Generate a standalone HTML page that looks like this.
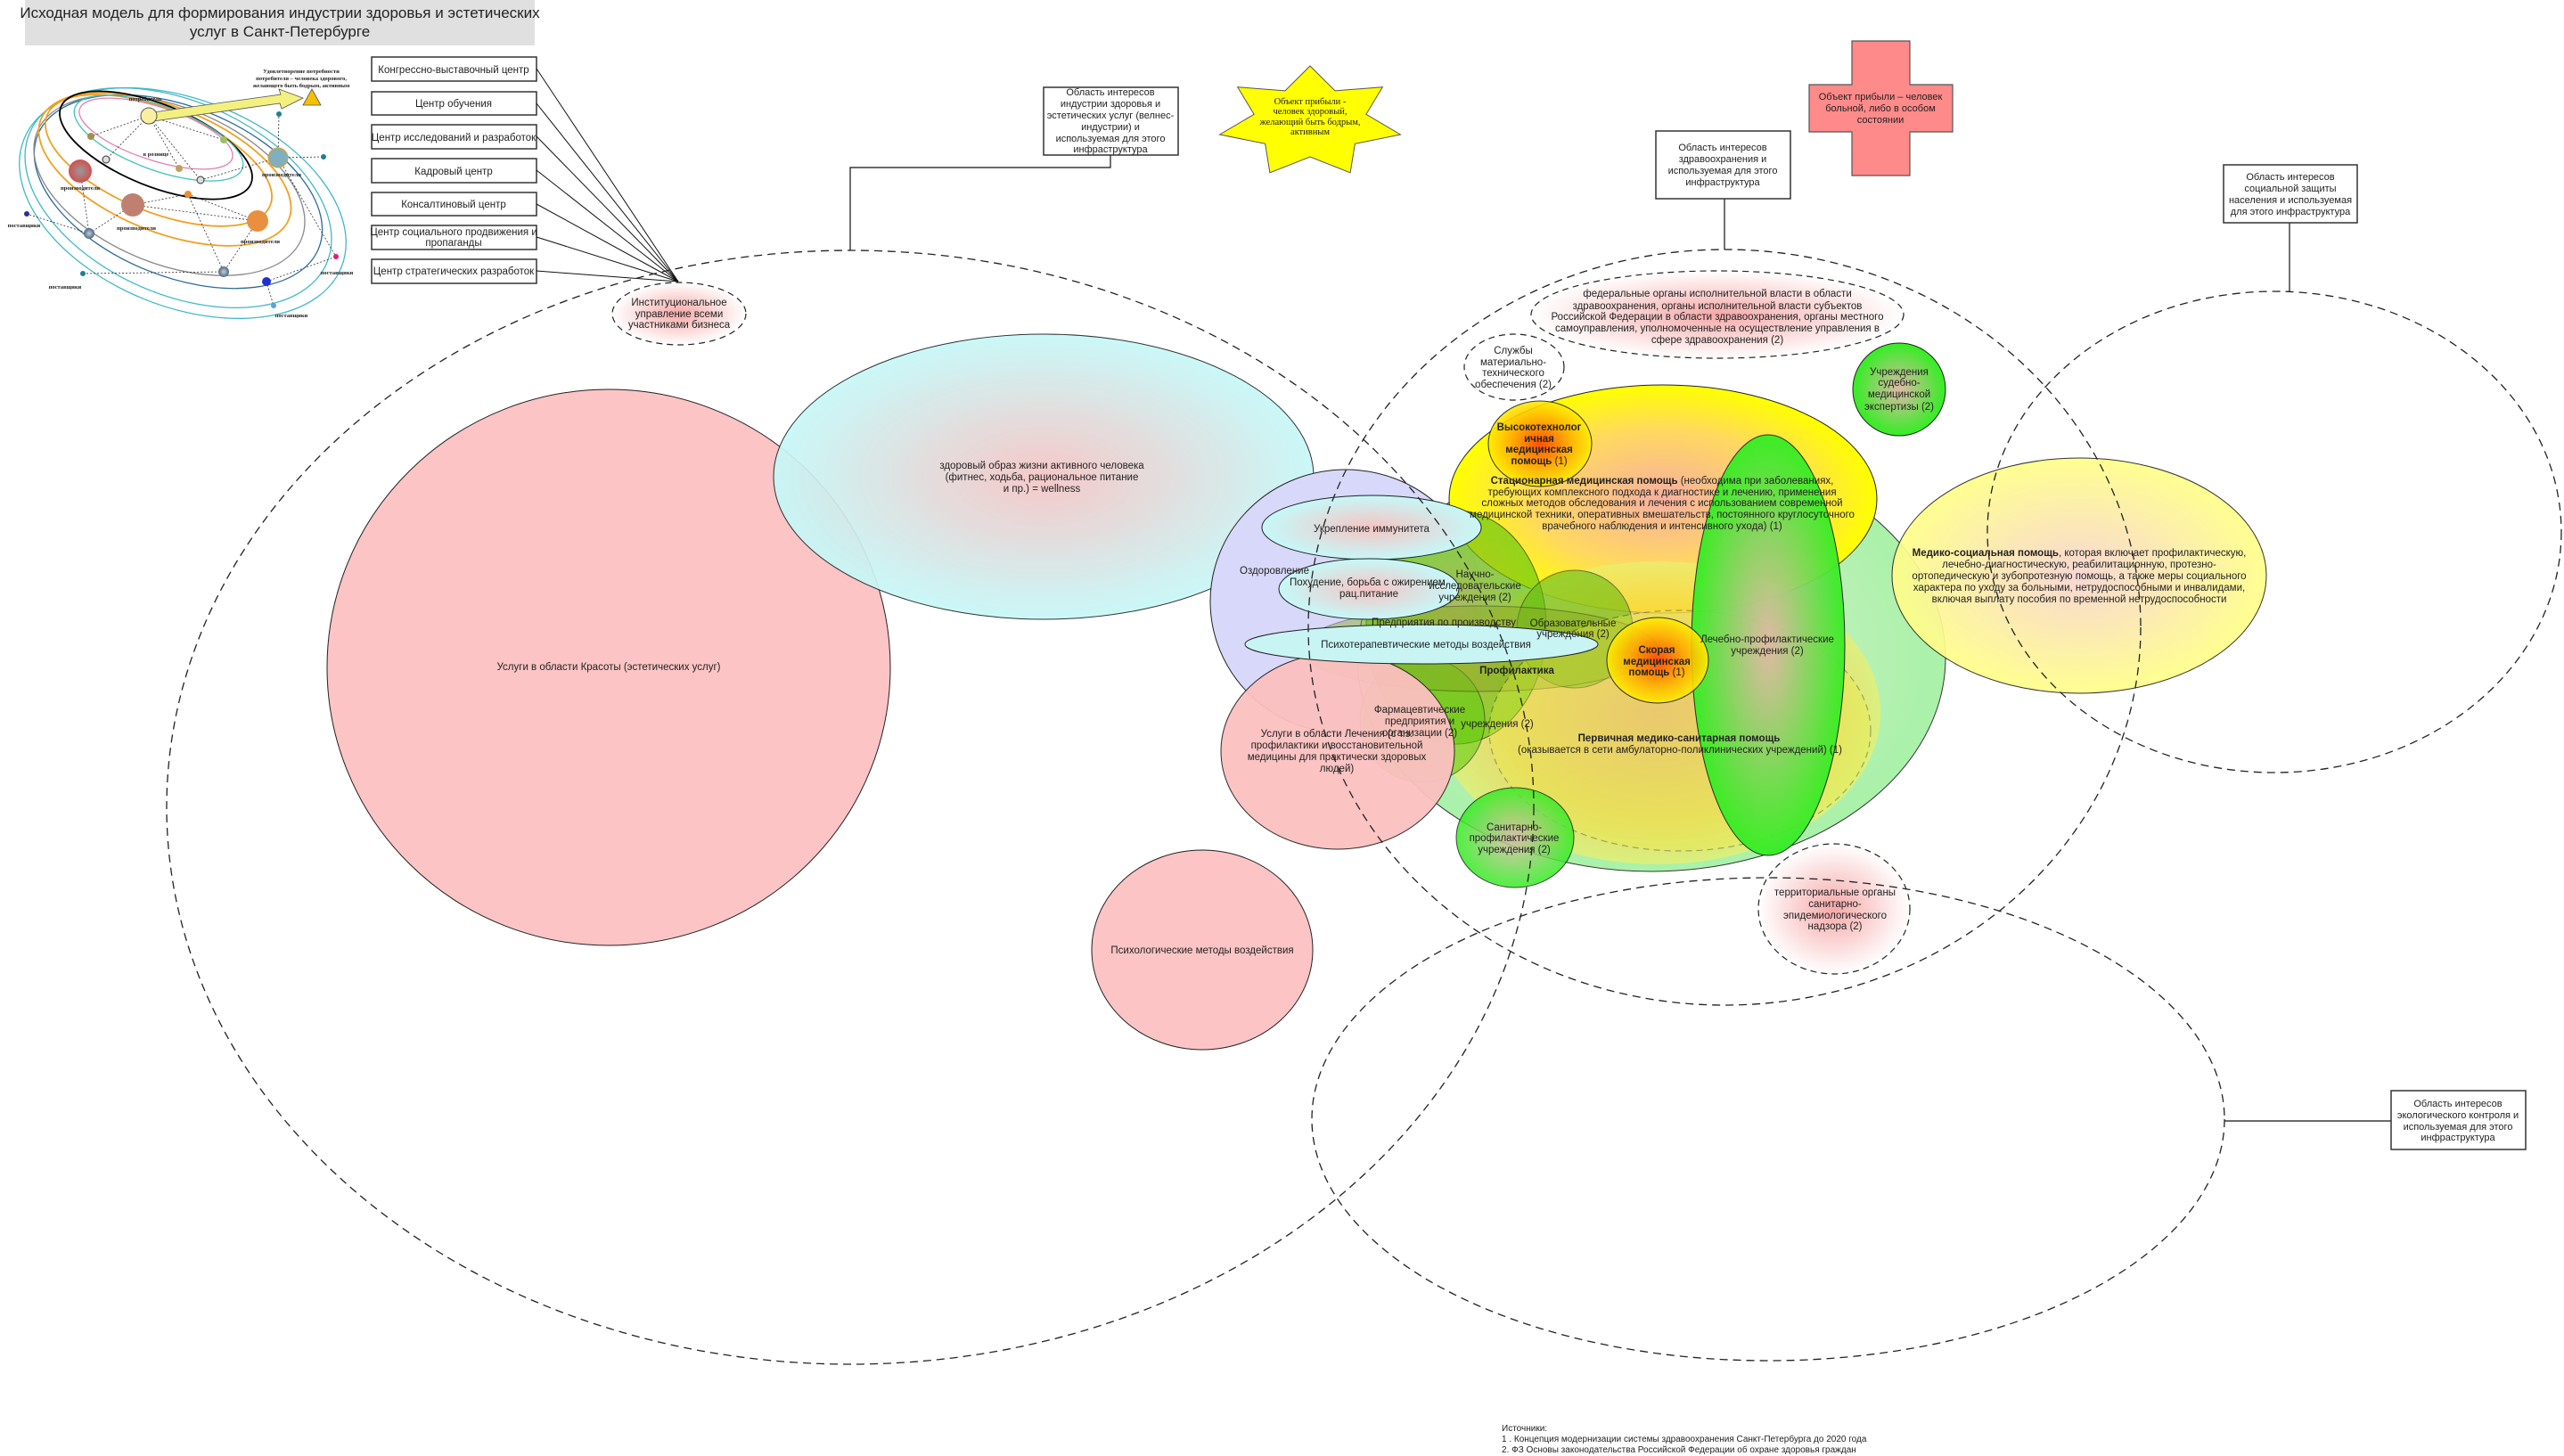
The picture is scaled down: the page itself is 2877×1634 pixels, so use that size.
<!DOCTYPE html>
<html><head><meta charset="utf-8"><style>
html,body{margin:0;padding:0;background:#fff;}
svg{display:block;}
text{font-family:"Liberation Sans","DejaVu Sans",sans-serif;fill:#222;}
.s{font-family:"Liberation Serif",serif;}
</style></head><body>
<svg width="2877" height="1634" viewBox="0 0 2877 1634" xmlns="http://www.w3.org/2000/svg">
<defs>
<radialGradient id="gCyan"><stop offset="0" stop-color="#f6c4c4"/><stop offset="1" stop-color="#c6f8f8"/></radialGradient>
<radialGradient id="gYel"><stop offset="0" stop-color="#f6b0a0"/><stop offset="0.6" stop-color="#ffd860"/><stop offset="1" stop-color="#ffff00"/></radialGradient>
<radialGradient id="gBig"><stop offset="0" stop-color="#f0a070"/><stop offset="0.7" stop-color="#f6d050"/><stop offset="1" stop-color="#e8f070"/></radialGradient>
<radialGradient id="gOr"><stop offset="0" stop-color="#ff4000"/><stop offset="0.6" stop-color="#ffb000"/><stop offset="1" stop-color="#ffee00"/></radialGradient>
<radialGradient id="gGr"><stop offset="0" stop-color="#e0b8a8"/><stop offset="1" stop-color="#33ee22"/></radialGradient>
<radialGradient id="gOl"><stop offset="0" stop-color="#b0a040"/><stop offset="1" stop-color="#66cc11"/></radialGradient>
<radialGradient id="gPk"><stop offset="0" stop-color="#f6a8a8"/><stop offset="1" stop-color="#ffffff"/></radialGradient>
<radialGradient id="gLY"><stop offset="0" stop-color="#f8d4d0"/><stop offset="1" stop-color="#ffff88"/></radialGradient>
<radialGradient id="gLG"><stop offset="0" stop-color="#d8f0c8"/><stop offset="1" stop-color="#a0f0a0"/></radialGradient>
<radialGradient id="pl1"><stop offset="0" stop-color="#999"/><stop offset="1" stop-color="#d05050"/></radialGradient>
<radialGradient id="pl2"><stop offset="0" stop-color="#ccc"/><stop offset="1" stop-color="#4a6a8a"/></radialGradient>
</defs>

<!-- Title -->
<rect x="28" y="0" width="572" height="51" fill="#e0e0e0"/>
<text x="314" y="20" font-size="17" text-anchor="middle">Исходная модель для формирования индустрии здоровья и эстетических</text>
<text x="314" y="41" font-size="17" text-anchor="middle">услуг в Санкт-Петербурге</text>

<!-- Solar system -->
<g fill="none" stroke-width="1.3">
<ellipse cx="205" cy="228" rx="192" ry="116" transform="rotate(22 205 228)" stroke="#40b8c8"/>
<ellipse cx="200" cy="222" rx="182" ry="108" transform="rotate(24 200 222)" stroke="#40b8c8"/>
<ellipse cx="200" cy="215" rx="170" ry="95" transform="rotate(22 200 215)" stroke="#2a6a9a"/>
<ellipse cx="190" cy="208" rx="160" ry="88" transform="rotate(22 190 208)" stroke="#888"/>
<ellipse cx="185" cy="190" rx="150" ry="70" transform="rotate(22 185 190)" stroke="#f0a020" stroke-width="1.8"/>
<ellipse cx="178" cy="180" rx="135" ry="58" transform="rotate(22 178 180)" stroke="#f0a020" stroke-width="1.8"/>
<ellipse cx="175" cy="163" rx="115" ry="46" transform="rotate(22 175 163)" stroke="#000" stroke-width="1.8"/>
<ellipse cx="178" cy="155" rx="100" ry="36" transform="rotate(20 178 155)" stroke="#40c0c0"/>
<ellipse cx="175" cy="150" rx="90" ry="30" transform="rotate(18 175 150)" stroke="#e080b0"/>
</g>
<g stroke="#333" stroke-dasharray="2 2" stroke-width="0.8">
<line x1="167" y1="130" x2="102" y2="153"/><line x1="167" y1="130" x2="119" y2="179"/><line x1="167" y1="130" x2="201" y2="189"/>
<line x1="167" y1="130" x2="251" y2="157"/><line x1="167" y1="130" x2="225" y2="202"/><line x1="211" y1="218" x2="149" y2="230"/>
<line x1="211" y1="218" x2="289" y2="248"/><line x1="211" y1="218" x2="251" y2="305"/><line x1="100" y1="262" x2="30" y2="240"/>
<line x1="251" y1="305" x2="93" y2="307"/><line x1="299" y1="316" x2="377" y2="288"/><line x1="299" y1="316" x2="307" y2="343"/>
<line x1="312" y1="177" x2="363" y2="176"/><line x1="312" y1="177" x2="313" y2="128"/><line x1="90" y1="192" x2="100" y2="262"/>
<line x1="149" y1="230" x2="100" y2="262"/><line x1="289" y1="248" x2="251" y2="305"/><line x1="312" y1="177" x2="377" y2="288"/>
<line x1="225" y1="202" x2="312" y2="177"/><line x1="149" y1="230" x2="289" y2="248"/>
</g>
<polygon points="172,126 315,106 313,100 340,110 316,122 314,116 172,136" fill="#f4f080" stroke="#555" stroke-width="0.8"/>
<polygon points="340,118 350,100 360,118" fill="#f6c000" stroke="#555" stroke-width="0.8"/>
<circle cx="167" cy="130" r="9" fill="#f8f0a0" stroke="#555"/>
<circle cx="90" cy="192" r="13" fill="url(#pl1)"/>
<circle cx="149" cy="230" r="13" fill="#c08070"/>
<circle cx="289" cy="248" r="12" fill="#e89040"/>
<circle cx="312" cy="177" r="11" fill="#80b0c0" stroke="#e0a020"/>
<circle cx="100" cy="262" r="6" fill="url(#pl2)"/><circle cx="251" cy="305" r="6" fill="url(#pl2)"/>
<circle cx="299" cy="316" r="5" fill="#2030d0"/><circle cx="211" cy="218" r="4" fill="#e89030"/>
<circle cx="313" cy="128" r="3" fill="#208090"/><circle cx="363" cy="176" r="3" fill="#208090"/>
<circle cx="93" cy="307" r="3" fill="#208090"/><circle cx="307" cy="343" r="3" fill="#60a0e0"/>
<circle cx="377" cy="288" r="3" fill="#e02070"/><circle cx="30" cy="240" r="3" fill="#303090"/>
<circle cx="102" cy="153" r="4" fill="#a09050"/><circle cx="119" cy="179" r="4" fill="#ddd" stroke="#333"/>
<circle cx="201" cy="189" r="4" fill="#c0a060"/><circle cx="251" cy="157" r="4" fill="#a0c060"/><circle cx="225" cy="202" r="4" fill="#ddd" stroke="#333"/>
<g class="s" font-size="6.5" font-weight="bold">
<text class="s" x="163" y="113" text-anchor="middle" font-size="6.5">потребитель</text>
<text class="s" x="175" y="175" text-anchor="middle" font-size="6.5">в рознице</text>
<text class="s" x="90" y="213" text-anchor="middle" font-size="6.5">производители</text>
<text class="s" x="153" y="258" text-anchor="middle" font-size="6.5">производители</text>
<text class="s" x="316" y="198" text-anchor="middle" font-size="6.5">производители</text>
<text class="s" x="292" y="273" text-anchor="middle" font-size="6.5">производители</text>
<text class="s" x="27" y="255" text-anchor="middle" font-size="6.5">поставщики</text>
<text class="s" x="73" y="324" text-anchor="middle" font-size="6.5">поставщики</text>
<text class="s" x="378" y="308" text-anchor="middle" font-size="6.5">поставщики</text>
<text class="s" x="327" y="356" text-anchor="middle" font-size="6.5">поставщики</text>
<text class="s" x="338" y="82" text-anchor="middle" font-size="6.5">Удовлетворение потребности</text>
<text class="s" x="338" y="90" text-anchor="middle" font-size="6.5">потребителя – человека здорового,</text>
<text class="s" x="338" y="98" text-anchor="middle" font-size="6.5">желающего быть бодрым, активным</text>
</g>

<!-- Left boxes -->
<g fill="#fff" stroke="#333" stroke-width="1.5">
<rect x="417" y="64" width="185" height="27"/><rect x="417" y="103" width="185" height="26"/>
<rect x="417" y="140" width="185" height="27"/><rect x="417" y="178" width="185" height="27"/>
<rect x="417" y="216" width="185" height="26"/><rect x="417" y="253" width="185" height="27"/>
<rect x="417" y="291" width="185" height="27"/>
</g>
<g font-size="11.5" text-anchor="middle">
<text x="509" y="82">Конгрессно-выставочный центр</text>
<text x="509" y="120">Центр обучения</text>
<text x="509" y="158">Центр исследований и разработок</text>
<text x="509" y="196">Кадровый центр</text>
<text x="509" y="233">Консалтиновый центр</text>
<text x="509" y="264">Центр социального продвижения и</text>
<text x="509" y="276">пропаганды</text>
<text x="509" y="308">Центр стратегических разработок</text>
</g>
<g stroke="#111" stroke-width="1">
<line x1="602" y1="77" x2="761" y2="316"/><line x1="602" y1="116" x2="761" y2="316"/>
<line x1="602" y1="153" x2="761" y2="316"/><line x1="602" y1="191" x2="761" y2="316"/>
<line x1="602" y1="229" x2="761" y2="316"/><line x1="602" y1="266" x2="761" y2="316"/>
<line x1="602" y1="304" x2="761" y2="316"/>
</g>

<!-- Filled shapes -->
<ellipse cx="683" cy="749" rx="316" ry="312" fill="#fcc4c4" stroke="#222" stroke-width="1"/>
<ellipse cx="1171" cy="535" rx="303" ry="160" fill="url(#gCyan)" stroke="#222" stroke-width="1" opacity="0.92"/>
<ellipse cx="1510" cy="675" rx="152" ry="148" fill="#d8d8fa" stroke="#222" stroke-width="1"/>
<ellipse cx="1853" cy="738" rx="330" ry="240" fill="url(#gLG)" stroke="#222" stroke-width="1" opacity="0.9"/>
<ellipse cx="1866" cy="560" rx="240" ry="128" fill="url(#gYel)" stroke="#222" stroke-width="1"/>
<ellipse cx="1860" cy="800" rx="250" ry="170" fill="url(#gBig)" opacity="0.75"/>
<ellipse cx="1634" cy="704" rx="101" ry="131" fill="url(#gOl)" stroke="#222" stroke-width="1" opacity="0.7"/>
<ellipse cx="1596" cy="808" rx="70" ry="70" fill="#66cc11" stroke="#222" stroke-width="1" opacity="0.6"/>
<ellipse cx="1767" cy="706" rx="65" ry="66" fill="#66bb11" stroke="#222" stroke-width="1" opacity="0.6"/>
<ellipse cx="1660" cy="728" rx="200" ry="48" fill="#88aa22" stroke="#222" stroke-width="1" opacity="0.45"/>
<ellipse cx="1885" cy="820" rx="214" ry="135" fill="#eeee44" opacity="0.35" stroke="#222" stroke-width="1.2" stroke-dasharray="7 5"/>
<ellipse cx="1984" cy="724" rx="86" ry="236" fill="url(#gGr)" stroke="#222" stroke-width="1" opacity="0.95"/>
<ellipse cx="1728" cy="498" rx="58" ry="48" fill="url(#gOr)" stroke="#222" stroke-width="1" opacity="0.9"/>
<ellipse cx="1860" cy="741" rx="57" ry="48" fill="url(#gOr)" stroke="#222" stroke-width="1" opacity="0.9"/>
<ellipse cx="1501" cy="843" rx="131" ry="110" fill="#fcc0c0" stroke="#222" stroke-width="1" opacity="0.95"/>
<ellipse cx="1349" cy="1066" rx="124" ry="112" fill="#fcc4c4" stroke="#222" stroke-width="1"/>
<ellipse cx="1539" cy="592" rx="123" ry="36" fill="url(#gCyan)" stroke="#222" stroke-width="1"/>
<ellipse cx="1536" cy="661" rx="101" ry="34" fill="url(#gCyan)" stroke="#222" stroke-width="1"/>
<ellipse cx="1595" cy="723" rx="198" ry="22" fill="#c8f4f4" stroke="#222" stroke-width="1"/>
<ellipse cx="1700" cy="940" rx="66" ry="56" fill="url(#gGr)" stroke="#222" stroke-width="1" opacity="0.85"/>
<ellipse cx="2131" cy="437" rx="52" ry="52" fill="url(#gGr)" stroke="#222" stroke-width="1"/>
<ellipse cx="2333" cy="646" rx="210" ry="132" fill="url(#gLY)" stroke="#222" stroke-width="1" opacity="0.92"/>

<!-- dashed pink ellipses -->
<g stroke="#222" stroke-width="1.2" stroke-dasharray="7 5">
<ellipse cx="1927" cy="353" rx="209" ry="49" fill="url(#gPk)"/>
<ellipse cx="1699" cy="412" rx="56" ry="37" fill="#fff"/>
<ellipse cx="2058" cy="1020" rx="85" ry="73" fill="url(#gPk)"/>
<ellipse cx="762" cy="352" rx="75" ry="35" fill="url(#gPk)"/>
</g>

<!-- big dashed outlines -->
<g fill="none" stroke="#222" stroke-width="1.3" stroke-dasharray="9 6">
<ellipse cx="954" cy="906" rx="767" ry="625"/>
<ellipse cx="1935" cy="704" rx="467" ry="424"/>
<ellipse cx="2552" cy="597" rx="322" ry="270"/>
<ellipse cx="1984" cy="1256" rx="512" ry="271"/>
</g>

<!-- connectors to interest boxes -->
<g fill="none" stroke="#111" stroke-width="1.2">
<polyline points="1246,174 1246,188 954,188 954,281"/>
<line x1="1935" y1="223" x2="1935" y2="280"/>
<line x1="2569" y1="250" x2="2569" y2="327"/>
<line x1="2496" y1="1258" x2="2683" y2="1258"/>
</g>
<g fill="#fff" stroke="#333" stroke-width="1.5">
<rect x="1171" y="98" width="151" height="76"/>
<rect x="1858" y="147" width="151" height="76"/>
<rect x="2495" y="185" width="150" height="65"/>
<rect x="2683" y="1224" width="151" height="66"/>
</g>
<g font-size="11" text-anchor="middle">
<text x="1246" y="107">Область интересов</text><text x="1246" y="120">индустрии здоровья и</text>
<text x="1246" y="133">эстетических услуг (велнес-</text><text x="1246" y="146">индустрии) и</text>
<text x="1246" y="159">используемая для этого</text><text x="1246" y="171">инфраструктура</text>
<text x="1933" y="169">Область интересов</text><text x="1933" y="182">здравоохранения и</text>
<text x="1933" y="195">используемая для этого</text><text x="1933" y="208">инфраструктура</text>
<text x="2570" y="202">Область интересов</text><text x="2570" y="215">социальной защиты</text>
<text x="2570" y="228">населения и используемая</text><text x="2570" y="241">для этого инфраструктура</text>
<text x="2758" y="1242">Область интересов</text><text x="2758" y="1255">экологического контроля и</text>
<text x="2758" y="1268">используемая для этого</text><text x="2758" y="1280">инфраструктура</text>
</g>

<!-- Star -->
<polygon points="1470,74 1498,101.9 1551.3,97.7 1532.9,128.3 1571.4,151 1520.4,161.3 1515.1,193.8 1470,176 1424.9,193.8 1419.6,161.3 1368.6,151 1407.1,128.3 1388.7,97.7 1442,101.9" fill="#ffff00" stroke="#555" stroke-width="1"/>
<g font-size="10.5" text-anchor="middle">
<text class="s" x="1470" y="117" font-size="10.5">Объект прибыли  -</text>
<text class="s" x="1470" y="128" font-size="10.5">человек здоровый,</text>
<text class="s" x="1470" y="140" font-size="10.5">желающий быть бодрым,</text>
<text class="s" x="1470" y="151" font-size="10.5">активным</text>
</g>
<!-- Cross -->
<polygon points="2078,46 2143,46 2143,95 2191,95 2191,148 2143,148 2143,197 2078,197 2078,148 2030,148 2030,95 2078,95" fill="#ff8a8a" stroke="#555" stroke-width="1.2"/>
<g font-size="11" text-anchor="middle">
<text x="2110" y="112">Объект прибыли – человек</text>
<text x="2110" y="125">больной, либо в особом</text>
<text x="2110" y="138">состоянии</text>
</g>

<!-- Shape texts -->
<g font-size="11.5" text-anchor="middle">
<text x="683" y="752">Услуги в области Красоты (эстетических услуг)</text>
<text x="1169" y="526">здоровый образ жизни активного человека</text>
<text x="1169" y="539">(фитнес, ходьба, рациональное питание</text>
<text x="1169" y="552">и пр.) = wellness</text>
<text x="1430" y="644" fill="#555">Оздоровление</text>
<text x="1655" y="648" fill="#555">Научно-</text>
<text x="1655" y="661" fill="#555">исследовательские</text>
<text x="1655" y="674" fill="#555">учреждения (2)</text>
<text x="1620" y="702" fill="#776">Предприятия по производству</text>
<text x="1765" y="703" fill="#444">Образовательные</text>
<text x="1765" y="715" fill="#444">учреждения (2)</text>
<text x="1539" y="597">Укрепление иммунитета</text>
<text x="1536" y="657">Похудение, борьба с ожирением,</text>
<text x="1536" y="670">рац.питание</text>
<text x="1600" y="727">Психотерапевтические методы воздействия</text>
<text x="1702" y="756" font-weight="bold">Профилактика</text>
<text x="1593" y="800" fill="#a08080">Фармацевтические</text>
<text x="1593" y="813" fill="#a08080">предприятия и</text>
<text x="1593" y="826" fill="#a08080">организации (2)</text>
<text x="1680" y="816" fill="#884">учреждения (2)</text>
<text x="1500" y="827">Услуги в области Лечения (с т.з.</text>
<text x="1500" y="840">профилактики и восстановительной</text>
<text x="1500" y="853">медицины для практически здоровых</text>
<text x="1500" y="866">людей)</text>
<text x="1349" y="1070">Психологические методы воздействия</text>
<text x="1884" y="832" fill="#665" font-weight="bold">Первичная медико-санитарная помощь</text>
<text x="1885" y="845" fill="#665">(оказывается в сети амбулаторно-поликлинических учреждений) (1)</text>
<text x="1699" y="932" fill="#555">Санитарно-</text>
<text x="1699" y="944" fill="#555">профилактические</text>
<text x="1699" y="957" fill="#333">учреждения (2)</text>
<text x="1859" y="733" font-weight="bold">Скорая</text>
<text x="1859" y="746" font-weight="bold">медицинская</text>
<text x="1859" y="758"><tspan font-weight="bold">помощь</tspan> (1)</text>
<text x="1983" y="721">Лечебно-профилактические</text>
<text x="1983" y="734">учреждения (2)</text>
<text x="1727" y="483" font-weight="bold">Высокотехнолог</text>
<text x="1727" y="496" font-weight="bold">ичная</text>
<text x="1727" y="508" font-weight="bold">медицинская</text>
<text x="1727" y="521"><tspan font-weight="bold">помощь</tspan> (1)</text>
<text x="1865" y="543"><tspan font-weight="bold">Стационарная медицинская помощь</tspan> (необходима при заболеваниях,</text>
<text x="1865" y="556">требующих комплексного подхода к диагностике и лечению, применения</text>
<text x="1865" y="568">сложных методов обследования и лечения с использованием современной</text>
<text x="1865" y="581">медицинской техники, оперативных вмешательств, постоянного круглосуточного</text>
<text x="1865" y="594">врачебного наблюдения и интенсивного ухода) (1)</text>
<text x="1698" y="397">Службы</text><text x="1698" y="410">материально-</text>
<text x="1698" y="422">технического</text><text x="1698" y="435">обеспечения (2)</text>
<text x="1927" y="333">федеральные органы исполнительной власти в области</text>
<text x="1927" y="347">здравоохранения, органы исполнительной власти субъектов</text>
<text x="1927" y="359">Российской Федерации в области здравоохранения, органы местного</text>
<text x="1927" y="372">самоуправления, уполномоченные на осуществление управления в</text>
<text x="1927" y="385">сфере здравоохранения (2)</text>
<text x="2131" y="421">Учреждения</text><text x="2131" y="433">судебно-</text>
<text x="2131" y="446">медицинской</text><text x="2131" y="460">экспертизы (2)</text>
<text x="2333" y="624"><tspan font-weight="bold">Медико-социальная помощь</tspan>, которая включает профилактическую,</text>
<text x="2333" y="637">лечебно-диагностическую, реабилитационную, протезно-</text>
<text x="2333" y="650">ортопедическую и зубопротезную помощь, а также меры социального</text>
<text x="2333" y="663">характера по уходу за больными, нетрудоспособными и инвалидами,</text>
<text x="2333" y="676">включая выплату пособия по временной нетрудоспособности</text>
<text x="2059" y="1005">территориальные органы</text><text x="2059" y="1018">санитарно-</text>
<text x="2059" y="1031">эпидемиологического</text><text x="2059" y="1043">надзора (2)</text>
<text x="762" y="343">Институциональное</text><text x="762" y="356">управление всеми</text>
<text x="762" y="368">участниками бизнеса</text>
</g>

<g font-size="10">
<text x="1685" y="1606">Источники:</text>
<text x="1685" y="1618">1 . Концепция модернизации системы здравоохранения Санкт-Петербурга до 2020 года</text>
<text x="1685" y="1630">2. ФЗ Основы законодательства Российской Федерации об охране здоровья граждан</text>
</g>
</svg>
</body></html>
